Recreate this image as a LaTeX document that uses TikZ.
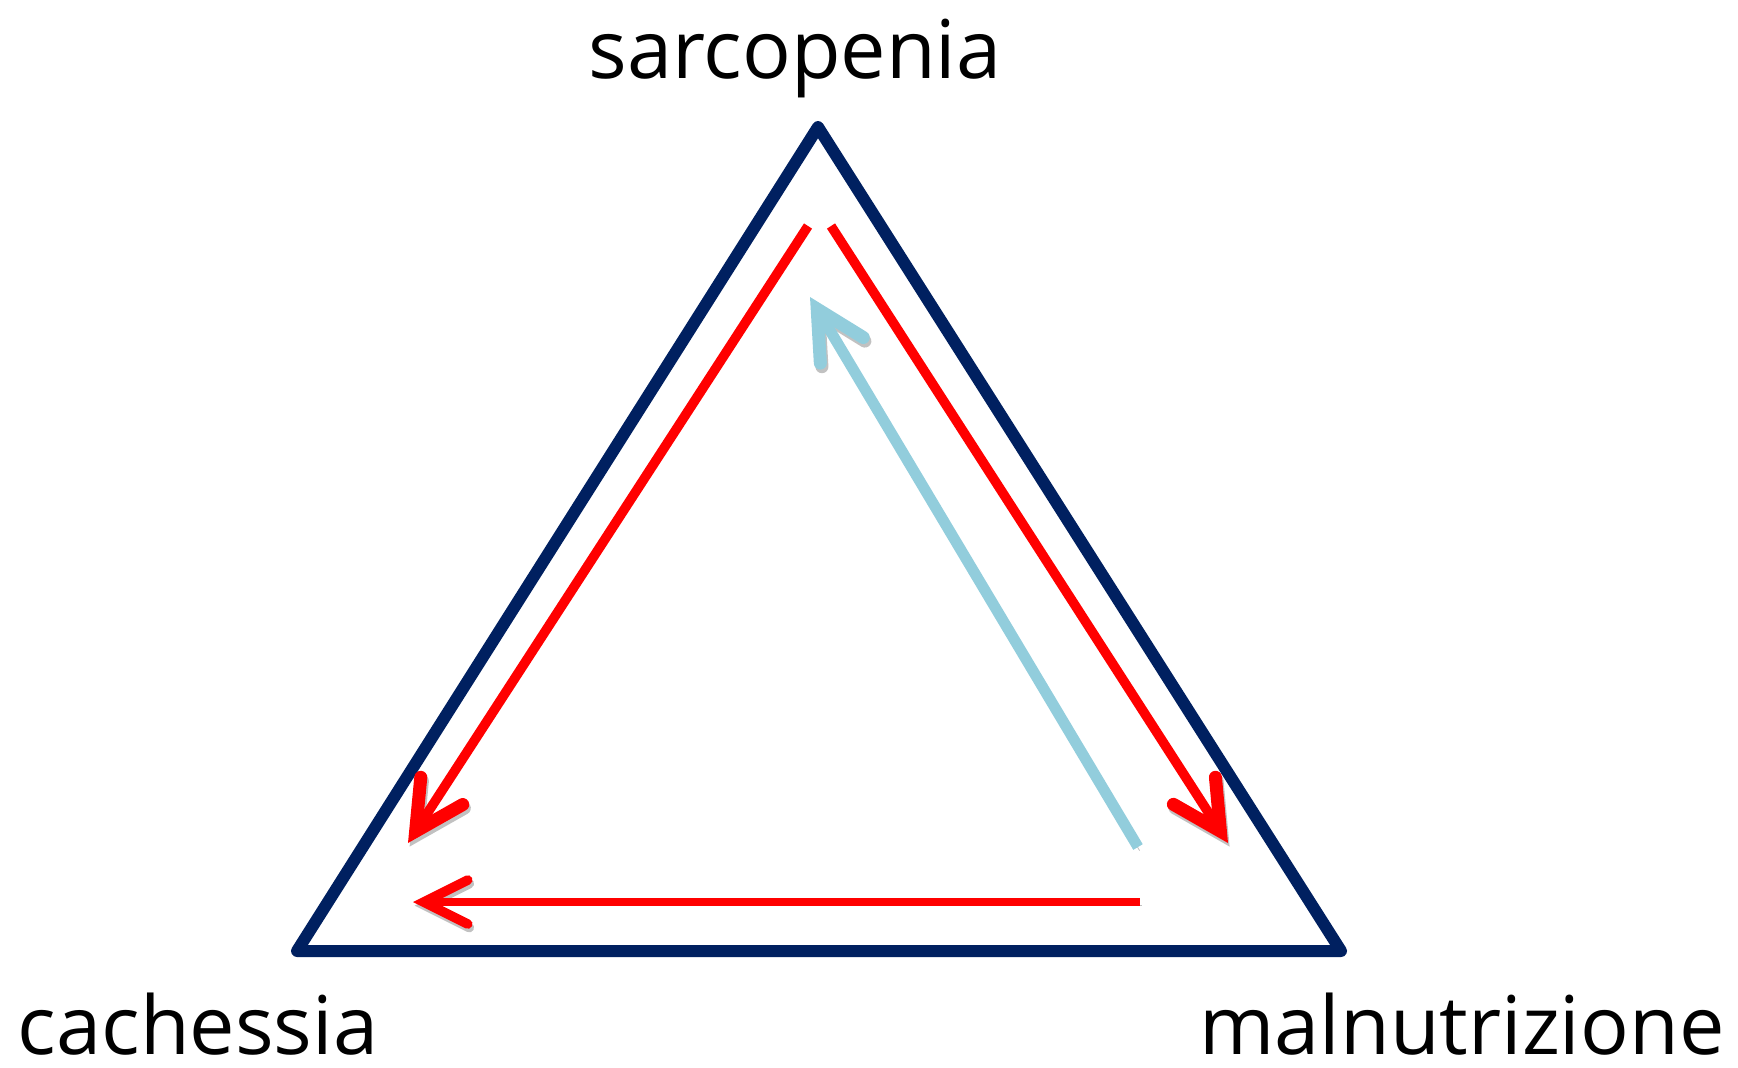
\documentclass[tikz,border=0pt]{standalone}
\usepackage{fontspec}
\setmainfont{Open Sans}
\usetikzlibrary{arrows.meta}
\definecolor{navy}{HTML}{002060}
\definecolor{lblue}{HTML}{92CDDC}
\tikzset{
  tri/.style={draw=navy, line width=6pt, line join=round},
  redarrow/.style={draw=red, line width=4.8pt, -{Straight Barb[length=24pt, width=25pt, line width=6.5pt, line cap=round, line join=miter]}},
  redarrowthin/.style={draw=red, line width=4.3pt, -{Straight Barb[length=22pt, width=22pt, line width=4.8pt, line cap=round, line join=miter]}},
  bluearrow/.style={draw=lblue, line width=5.5pt, -{Straight Barb[length=24pt, width=25pt, line width=6.5pt, line cap=round, line join=miter]}},
  lab/.style={font=\fontsize{40.5}{48}\selectfont, anchor=base, inner sep=0pt},
  shadowed/.style={preaction={draw=black!80, opacity=0.3, transform canvas={shift={(0.8pt,-1.8pt)}}}}
}
\begin{document}
\begin{tikzpicture}[x=0.5pt,y=-0.5pt]
\useasboundingbox (0,0) rectangle (1738,1067);
\coordinate (T) at (818,127);
\coordinate (L) at (297,951);
\coordinate (R) at (1341,951);
\draw[tri, shadowed] (T) -- (L) -- (R) -- cycle;
\coordinate (a1) at (808,226);
\coordinate (a1e) at (408,843);
\coordinate (a2) at (831,226);
\coordinate (a2e) at (1228,843);
\coordinate (a3) at (1140,902);
\coordinate (a3e) at (413,902);
\coordinate (b1) at (1138,847);
\coordinate (b1e) at (810,297);
\draw[redarrow, shadowed] (a1) -- (a1e);
\draw[redarrow, shadowed] (a2) -- (a2e);
\draw[redarrowthin, shadowed] (a3) -- (a3e);
\draw[bluearrow, shadowed] (b1) -- (b1e);
\node[lab] (sarc) at (795,78) {sarcopenia};
\node[lab] (cach) at (198,1054) {cachessia};
\node[lab] (maln) at (1462,1054) {malnutrizione};
\end{tikzpicture}
\end{document}
